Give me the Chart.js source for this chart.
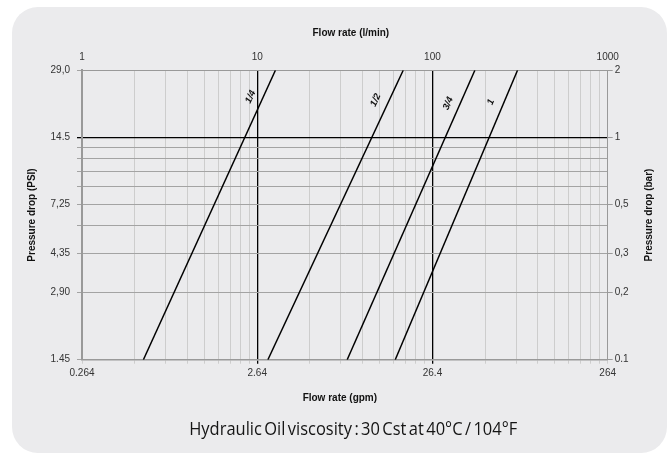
<!DOCTYPE html>
<html>
<head>
<meta charset="utf-8">
<script src="https://cdn.jsdelivr.net/npm/chart.js@4.4.1/dist/chart.umd.min.js"></script>
<style>
  html,body{margin:0;padding:0;background:#fff;}
  #wrap{position:relative;width:670px;height:455px;overflow:hidden;}
  #panel{position:absolute;left:12px;top:7px;width:655px;height:446px;background:#ebebed;border-radius:26px;}
  #c{position:absolute;left:0;top:0;}
  #cap{position:absolute;left:18px;top:416px;width:670px;text-align:center;line-height:17px;white-space:nowrap;}
  #capt{display:inline-block;font:17.5px "Open Sans",sans-serif;color:#151515;transform-origin:center;word-spacing:-2px;}
</style>
</head>
<body>
<div id="wrap">
  <div id="panel"></div>
  <canvas id="c" width="670" height="455"></canvas>
  <div id="cap"><span id="capt">Hydraulic Oil viscosity : 30 Cst at 40°C / 104°F</span></div>
</div>
<script>
// ---- data (flow in l/min, pressure drop in bar) ----
const sizes = ['1/4', '1/2', '3/4', '1'];
const pressureEnds = [0.1, 2];
const flowAtLow = [2.24, 11.5, 32.6, 61.3];     // l/min at 0.1 bar
const flowAtHigh = [12.7, 68.1, 174.6, 305.8];  // l/min at 2 bar
const labelFlow = [9.17, 47.4, 122.9, 215.4];
const labelBar = [1.52, 1.47, 1.42, 1.44];

// ---- tick labels ----
const flowTickValues = [1, 10, 100, 1000];
const flowLminLabels = ['1', '10', '100', '1000'];
const flowGpmLabels = ['0.264', '2.64', '26.4', '264'];
const barTickValues = [0.1, 0.2, 0.3, 0.5, 1, 2];
const psiLabels = ['1.45', '2,90', '4,35', '7,25', '14.5', '29,0'];
const barLabels = ['0.1', '0,2', '0,3', '0,5', '1', '2'];
const flowGridValues = [1,2,3,4,5,6,7,8,9,10,20,30,40,50,60,70,80,90,100,200,300,400,500,600,700,800,900,1000];
const barGridValues = [0.1,0.2,0.3,0.4,0.5,0.6,0.7,0.8,0.9,1,2];

// ---- axis titles ----
const titleTop = 'Flow rate (l/min)';
const titleBottom = 'Flow rate (gpm)';
const titleLeft = 'Pressure drop (PSI)';
const titleRight = 'Pressure drop (bar)';

function lookup(vals, labels, v) {
  for (let i = 0; i < vals.length; i++) if (Math.abs(vals[i] - v) < vals[i] * 1e-6) return labels[i];
  return '';
}
const near = (a, b) => Math.abs(a - b) < b * 1e-6;

const datasets = sizes.map((s, i) => ({
  label: s,
  data: [{x: flowAtLow[i], y: pressureEnds[0]}, {x: flowAtHigh[i], y: pressureEnds[1]}],
  showLine: true, borderColor: '#000', borderWidth: 1.5, pointRadius: 0, fill: false
}));

const tickFont = {family: '"Liberation Sans", Arial, sans-serif', size: 10};

const lineLabels = {
  id: 'lineLabels',
  afterDatasetsDraw(chart) {
    const ctx = chart.ctx, xs = chart.scales.x, ys = chart.scales.y;
    ctx.save();
    ctx.font = 'italic bold 9.5px "Liberation Sans", Arial, sans-serif';
    ctx.fillStyle = '#111';
    ctx.textAlign = 'center';
    ctx.textBaseline = 'middle';
    sizes.forEach((s, i) => {
      const x1 = xs.getPixelForValue(flowAtLow[i]), y1 = ys.getPixelForValue(pressureEnds[0]);
      const x2 = xs.getPixelForValue(flowAtHigh[i]), y2 = ys.getPixelForValue(pressureEnds[1]);
      const ang = Math.atan2(y2 - y1, x2 - x1);
      ctx.save();
      ctx.translate(xs.getPixelForValue(labelFlow[i]), ys.getPixelForValue(labelBar[i]));
      ctx.rotate(ang);
      ctx.fillText(s, 0, 0);
      ctx.restore();
    });
    ctx.restore();
  }
};

const axisTitles = {
  id: 'axisTitles',
  afterDraw(chart) {
    const ctx = chart.ctx, a = chart.chartArea;
    const cy = (a.top + a.bottom) / 2;
    ctx.save();
    ctx.font = 'bold 10px "Liberation Sans", Arial, sans-serif';
    ctx.fillStyle = '#111';
    ctx.textAlign = 'center';
    ctx.textBaseline = 'middle';
    ctx.fillText(titleTop, (a.left + a.right) / 2 + 6, a.top - 37);
    ctx.fillText(titleBottom, (a.left + a.right) / 2 - 5, a.bottom + 39);
    [[a.left - 50, titleLeft], [a.right + 42, titleRight]].forEach(([x, t]) => {
      ctx.save();
      ctx.translate(x, cy);
      ctx.rotate(-Math.PI / 2);
      ctx.fillText(t, 0, 0);
      ctx.restore();
    });
    ctx.restore();
  }
};

new Chart(document.getElementById('c'), {
  type: 'scatter',
  data: {datasets},
  options: {
    responsive: false, animation: false, devicePixelRatio: 1,
    layout: {padding: 0},
    plugins: {legend: {display: false}, tooltip: {enabled: false}},
    scales: {
      x: {
        type: 'logarithmic', position: 'bottom', min: 1, max: 1000,
        afterBuildTicks: s => { s.ticks = flowGridValues.map(v => ({value: v})); },
        afterFit: s => { s.height = 95.3; },
        ticks: {autoSkip: false, maxRotation: 0, padding: 4, color: '#333', font: tickFont,
          callback: v => lookup(flowTickValues, flowGpmLabels, v)},
        grid: {color: c => (near(c.tick.value, 10) || near(c.tick.value, 100)) ? '#000' : '#cdcdcd',
               lineWidth: c => (near(c.tick.value, 10) || near(c.tick.value, 100)) ? 1.3 : 1,
               tickLength: 4},
        border: {color: '#999', width: 1.5}
      },
      x2: {
        type: 'logarithmic', position: 'top', min: 1, max: 1000,
        afterBuildTicks: s => { s.ticks = flowTickValues.map(v => ({value: v})); },
        afterFit: s => { s.height = 70.3; },
        ticks: {autoSkip: false, maxRotation: 0, padding: 7, color: '#333', font: tickFont,
          callback: v => lookup(flowTickValues, flowLminLabels, v)},
        grid: {drawOnChartArea: false, drawTicks: false},
        border: {color: '#999', width: 1}
      },
      y: {
        type: 'logarithmic', position: 'left', min: 0.1, max: 2,
        afterBuildTicks: s => { s.ticks = barGridValues.map(v => ({value: v})); },
        afterFit: s => { s.width = 82; },
        ticks: {autoSkip: false, padding: 7, color: '#333', font: tickFont,
          callback: v => lookup(barTickValues, psiLabels, v)},
        grid: {color: c => near(c.tick.value, 1) ? '#000' : '#a3a3a3',
               lineWidth: c => near(c.tick.value, 1) ? 1.3 : 1,
               tickLength: 5},
        border: {color: '#999', width: 2}
      },
      y2: {
        type: 'logarithmic', position: 'right', min: 0.1, max: 2,
        afterBuildTicks: s => { s.ticks = barTickValues.map(v => ({value: v})); },
        afterFit: s => { s.width = 62.3; },
        ticks: {autoSkip: false, padding: 2, color: '#333', font: tickFont,
          callback: v => lookup(barTickValues, barLabels, v)},
        grid: {drawOnChartArea: false, tickLength: 5, color: '#999'},
        border: {color: '#999', width: 1}
      }
    }
  },
  plugins: [lineLabels, axisTitles]
});

// fit caption width to reference
const capt = document.getElementById('capt');
const w = capt.getBoundingClientRect().width;
capt.style.transform = 'scaleX(' + (328 / w) + ')';
</script>
</body>
</html>
